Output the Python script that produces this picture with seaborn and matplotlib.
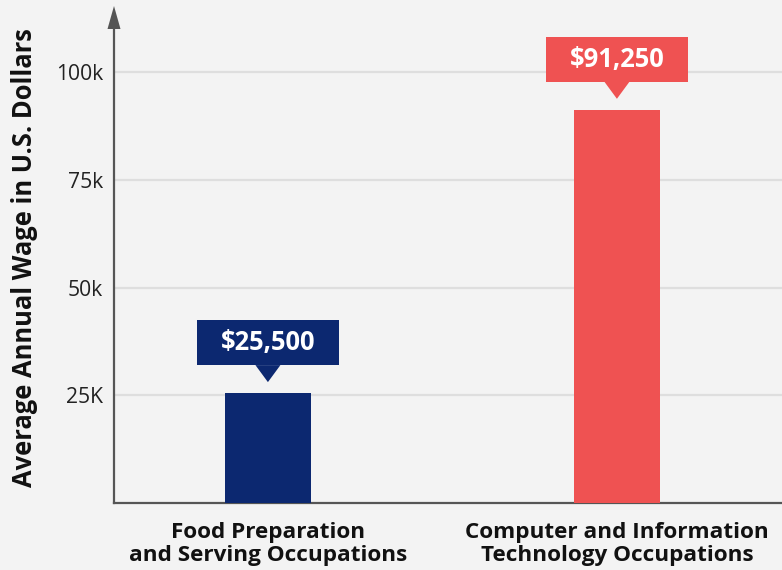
import matplotlib
matplotlib.use("Agg")
import matplotlib.pyplot as plt
import seaborn as sns
import pandas as pd
from matplotlib.patches import Polygon, Rectangle

categories = ["Food Preparation\nand Serving Occupations",
              "Computer and Information\nTechnology Occupations"]
wages = [25500, 91250]
bar_colors = ["#0c2870", "#ef5252"]
tick_values = [25000, 50000, 75000, 100000]
tick_labels = ["25K", "50k", "75k", "100k"]

BG = "#f3f3f3"
sns.set_theme(style="white")
plt.rcParams["font.family"] = ["Open Sans", "DejaVu Sans"]

W, H = 782, 570
fig = plt.figure(figsize=(W / 100, H / 100), dpi=100, facecolor=BG)
ax_left, ax_bottom, ax_top = 114, 503, 29
ax = fig.add_axes([ax_left / W, 1 - ax_bottom / H, 1 - ax_left / W, (ax_bottom - ax_top) / H])
ax.set_facecolor(BG)

df = pd.DataFrame({"cat": categories, "wage": wages})
sns.barplot(data=df, x="cat", y="wage", hue="cat", palette=bar_colors,
            legend=False, width=0.246, saturation=1, linewidth=0, ax=ax, zorder=3)

ymax = 110000
ax.set_ylim(0, ymax)
ax.set_xlim(-0.441, 1.473)

ax.set_yticks(tick_values)
ax.set_yticklabels(tick_labels, fontsize=15.2, color="#222222")
ax.yaxis.grid(True, color="#dedede", linewidth=1.6, zorder=0)
ax.tick_params(axis="y", length=0, pad=8)
ax.tick_params(axis="x", length=0, pad=14)
for lab in ax.get_xticklabels():
    lab.set_fontsize(16.2)
    lab.set_fontweight("bold")
    lab.set_color("#111111")
    lab.set_linespacing(1.1)

ax.set_xlabel("")
ax.set_ylabel("Average Annual Wage in U.S. Dollars", fontsize=18.4,
              fontweight="bold", color="#111111")
ax.yaxis.set_label_coords((38 - ax_left) / (W - ax_left), (ax_bottom - 258) / (ax_bottom - ax_top))

for s in ["top", "right"]:
    ax.spines[s].set_visible(False)
for s in ["left", "bottom"]:
    ax.spines[s].set_color("#555555")
    ax.spines[s].set_linewidth(1.6)

# arrow head on y axis
fig.patches.append(Polygon([((ax_left - 6.5) / W, 1 - 29 / H),
                            ((ax_left + 6.5) / W, 1 - 29 / H),
                            (ax_left / W, 1 - 6 / H)],
                           closed=True, transform=fig.transFigure,
                           facecolor="#555555", edgecolor="none"))

# callouts
px_per_y = (ax_bottom - ax_top) / ymax
px_per_x = (W - ax_left) / (1.473 + 0.441)
box_w = 142 / px_per_x
box_h = 45 / px_per_y
gap = 28 / px_per_y
tip = 11 / px_per_y
half_ptr = 12.5 / px_per_x
for i, (v, c) in enumerate(zip(wages, bar_colors)):
    b = v + gap
    ax.add_patch(Rectangle((i - box_w / 2, b), box_w, box_h, facecolor=c,
                           edgecolor="none", zorder=5, clip_on=False))
    ax.add_patch(Polygon([(i - half_ptr, b + 1e-3), (i + half_ptr, b + 1e-3), (i, v + tip)],
                         closed=True, facecolor=c, edgecolor="none", zorder=5, clip_on=False))
    ax.text(i, b + box_h / 2, f"${v:,}", ha="center", va="center", color="white",
            fontsize=18.4, fontweight="bold", zorder=6)

fig.savefig("out.png", dpi=100, facecolor=BG)
